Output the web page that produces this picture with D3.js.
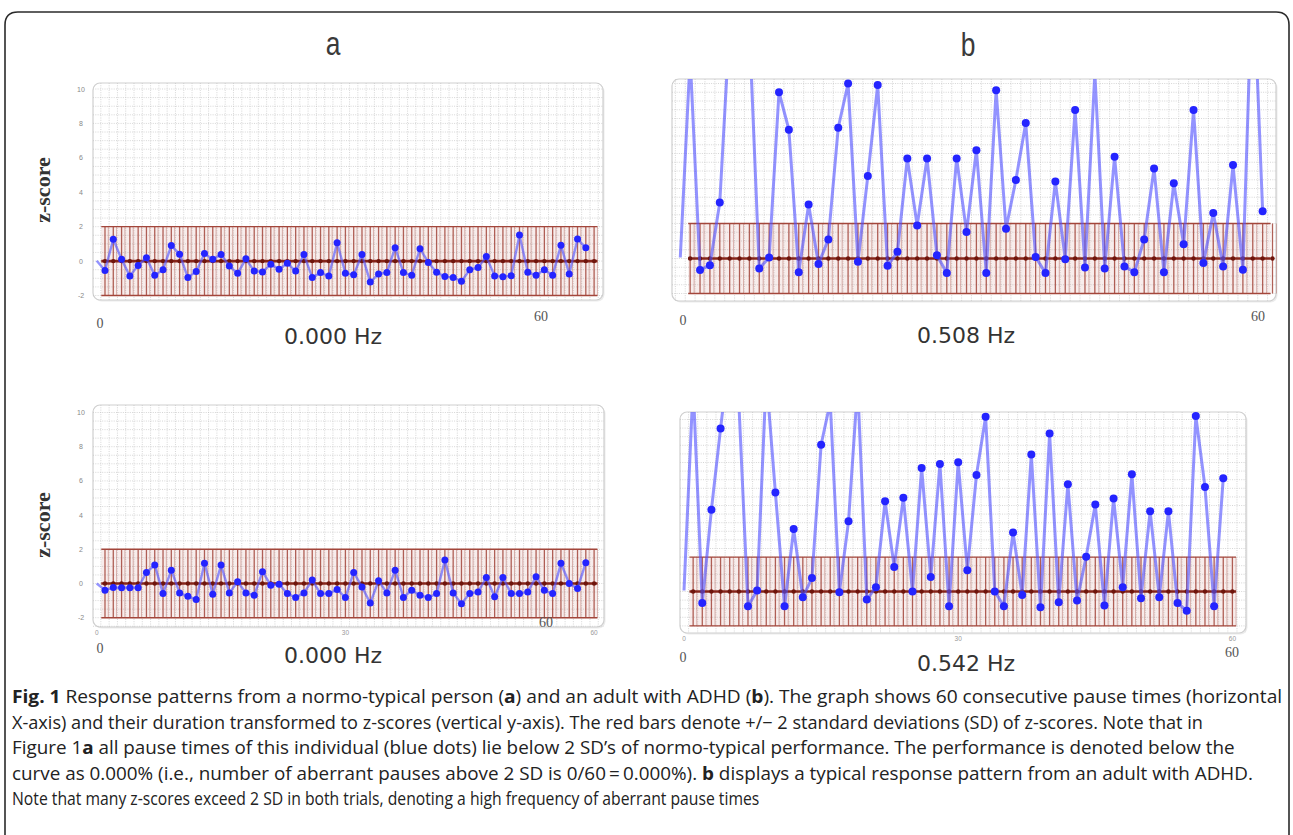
<!DOCTYPE html>
<html><head><meta charset="utf-8">
<script src="https://cdn.jsdelivr.net/npm/d3@7"></script>
<style>html,body{margin:0;padding:0;background:#fff;} svg{display:block;}</style>
</head><body>
<svg id="c" width="1293" height="835"></svg>
<script>
// ---------------- data ----------------
const panelLetters = ["a", "b"];
const yLabel = "z-score";
const rateLabels = ["0.000 Hz", "0.508 Hz", "0.000 Hz", "0.542 Hz"];
const yTickValues = [10, 8, 6, 4, 2, 0, -2];
const xEndLabels = ["0", "60"];
const xTinyTicks = [0, 30, 60];
const sdLimit = 2;
// index 0 = start of the trace (no dot), indices 1..59 = dots
const zA1 = [0.02, -0.55, 1.27, 0.1, -0.87, -0.25, 0.2, -0.83, -0.5, 0.9, 0.4, -0.96, -0.6, 0.44, 0.1, 0.38, -0.29, -0.71, 0.13, -0.58, -0.63, -0.19, -0.48, -0.13, -0.58, 0.38, -0.96, -0.67, -0.87, 1.07, -0.7, -0.8, 0.38, -1.22, -0.75, -0.67, 0.78, -0.67, -0.82, 0.72, -0.08, -0.65, -0.9, -0.95, -1.17, -0.51, -0.38, 0.26, -0.86, -0.91, -0.85, 1.52, -0.65, -0.82, -0.51, -0.82, 0.92, -0.75, 1.28, 0.77];
const zA2 = [0.0, -0.39, -0.24, -0.25, -0.25, -0.25, 0.65, 1.08, -0.59, 0.78, -0.55, -0.75, -0.94, 1.18, -0.63, 1.08, -0.55, 0.1, -0.55, -0.69, 0.69, -0.1, -0.04, -0.59, -0.82, -0.55, 0.2, -0.59, -0.59, -0.35, -0.82, 0.65, -0.2, -1.14, 0.16, -0.55, 0.78, -0.82, -0.39, -0.69, -0.82, -0.59, 1.37, -0.55, -1.18, -0.59, -0.49, 0.35, -0.78, 0.35, -0.59, -0.59, -0.49, 0.39, -0.4, -0.59, 1.18, 0.0, -0.29, 1.22];
const zB1 = [0.06, 11.5, -0.66, -0.38, 3.2, 13.4, 14, 13.2, -0.57, 0.06, 9.5, 7.36, -0.79, 3.08, -0.32, 1.09, 7.47, 10.0, -0.19, 4.72, 9.92, -0.42, 0.38, 5.72, 1.89, 5.72, 0.19, -0.83, 5.72, 1.51, 6.19, -0.83, 9.62, 1.7, 4.49, 7.74, 0.09, -0.83, 4.4, -0.04, 8.49, -0.51, 10.6, -0.57, 5.81, -0.45, -0.79, 1.09, 5.15, -0.79, 4.3, 0.81, 8.49, -0.26, 2.6, -0.45, 5.34, -0.64, 17, 2.7];
const zB2 = [0.06, 12, -0.67, 4.76, 9.47, 14, 11, -0.86, 0.06, 12.5, 5.75, -0.86, 3.63, -0.33, 0.78, 8.53, 11, -0.04, 4.08, 12, -0.47, 0.25, 5.25, 1.43, 5.45, 0.0, 7.18, 0.84, 7.41, -0.86, 7.51, 1.24, 6.78, 10.16, 0.0, -0.86, 3.43, -0.2, 7.96, -0.92, 9.18, -0.63, 6.24, -0.53, 2.02, 5.06, -0.82, 5.41, 0.25, 6.82, -0.39, 4.67, -0.33, 4.67, -0.67, -1.12, 10.2, 6.08, -0.86, 6.59];

const captionLines = [
  [["Fig. 1", true], [" Response patterns from a normo-typical person (", false], ["a", true], [") and an adult with ADHD (", false], ["b", true], ["). The graph shows 60 consecutive pause times (horizontal", false]],
  [["X-axis) and their duration transformed to z-scores (vertical y-axis). The red bars denote +/\u2212 2 standard deviations (SD) of z-scores. Note that in", false]],
  [["Figure 1", false], ["a", true], [" all pause times of this individual (blue dots) lie below 2 SD\u2019s of normo-typical performance. The performance is denoted below the", false]],
  [["curve as 0.000% (i.e., number of aberrant pauses above 2 SD is 0/60\u2009=\u20090.000%). ", false], ["b", true], [" displays a typical response pattern from an adult with ADHD.", false]],
  [["Note that many z-scores exceed 2 SD in both trials, denoting a high frequency of aberrant pause times", false]]
];

// ---------------- layout ----------------
const svg = d3.select("#c");
svg.append("rect").attr("width", 1293).attr("height", 835).attr("fill", "#fff");
svg.append("path").attr("d", "M5,840 L5,25 Q5,12 18,12 L1276,12 Q1289,12 1289,25 L1289,840")
  .attr("fill", "none").attr("stroke", "#2b2b2b").attr("stroke-width", 1.6);

const panels = [
  {id: "A1", data: zA1, xr: [96.7, 594.1], yr: [295.5, 89], frame: [93, 83, 510, 217], band: [0.55, 60.4],
   ticks: true, tiny: false, lw: 2.4, r: 3.5, rate: rateLabels[0], rateXY: [333, 344],
   end0: [100, 328], end60: [541, 321]},
  {id: "B1", data: zB1, xr: [680.3, 1272.5], yr: [293.5, 83.5], frame: [672, 79, 604, 222], band: [0.8, 59.8],
   ticks: false, tiny: false, lw: 3, r: 4, rate: rateLabels[1], rateXY: [966, 343],
   end0: [683, 325], end60: [1258, 321]},
  {id: "A2", data: zA2, xr: [96.7, 594.1], yr: [617.7, 412.5], frame: [93, 405, 511, 222], band: [0.55, 60.4],
   ticks: true, tiny: true, lw: 2.4, r: 3.5, rate: rateLabels[2], rateXY: [333, 663],
   end0: [100, 653], end60: [546, 627]},
  {id: "B2", data: zB2, xr: [684, 1232.4], yr: [625.9, 419.5], frame: [680, 412, 566, 221], band: [0.6, 60.4],
   ticks: false, tiny: true, lw: 3, r: 4, rate: rateLabels[3], rateXY: [966, 671],
   end0: [683, 662], end60: [1232, 657]}
];

const red = "#a3463b", darkRed = "#86251a";

panels.forEach((p, pi) => {
  const x = d3.scaleLinear().domain([0, 60]).range(p.xr);
  const y = d3.scaleLinear().domain([-2, 10]).range(p.yr);
  const step = x(1) - x(0);
  const [fx, fy, fw, fh] = p.frame;
  const g = svg.append("g");
  const clipId = "clip" + p.id;
  svg.append("defs").append("clipPath").attr("id", clipId)
    .append("rect").attr("x", fx).attr("y", fy).attr("width", fw).attr("height", fh);

  // frame (with soft shadow)
  g.append("rect").attr("x", fx + 1.5).attr("y", fy + 1.5).attr("width", fw).attr("height", fh)
    .attr("rx", 7).attr("fill", "#ececec");
  g.append("rect").attr("x", fx).attr("y", fy).attr("width", fw).attr("height", fh)
    .attr("rx", 7).attr("fill", "#fff").attr("stroke", "#cfcfcf").attr("stroke-width", 1.2);

  // grid
  const grid = g.append("g").attr("clip-path", `url(#${clipId})`)
    .attr("stroke", "#c4c4c4").attr("stroke-width", 0.7).attr("stroke-dasharray", "1,1.3");
  const zLines = d3.range(-3, 11.01, 0.5);
  grid.selectAll("line.h").data(zLines).join("line")
    .attr("x1", fx).attr("x2", fx + fw).attr("y1", d => y(d)).attr("y2", d => y(d));
  const xLines = d3.range(-1, 62, 1);
  grid.selectAll("line.v").data(xLines).join("line")
    .attr("x1", d => x(d + 0.5)).attr("x2", d => x(d + 0.5)).attr("y1", fy).attr("y2", fy + fh);

  // band +/- 2 SD
  const bx0 = x(p.band[0]), bx1 = x(p.band[1]);
  g.append("rect").attr("x", bx0).attr("y", y(sdLimit)).attr("width", bx1 - bx0)
    .attr("height", y(-sdLimit) - y(sdLimit)).attr("fill", "rgba(200,110,100,0.12)");
  const idx = d3.range(1, 61);
  const bars = g.append("g").attr("stroke", red).attr("opacity", 0.85);
  bars.selectAll("line.a").data(idx).join("line")
    .attr("x1", d => x(d)).attr("x2", d => x(d)).attr("y1", y(sdLimit)).attr("y2", y(-sdLimit))
    .attr("stroke-width", 1.3);
  bars.selectAll("line.b").data(idx).join("line").attr("class", "b")
    .attr("x1", d => x(d) + step * 0.4).attr("x2", d => x(d) + step * 0.4)
    .attr("y1", y(sdLimit)).attr("y2", y(-sdLimit))
    .attr("stroke-width", 0.8).attr("opacity", 0.55);
  [sdLimit, -sdLimit].forEach(v => g.append("line").attr("x1", bx0).attr("x2", bx1)
    .attr("y1", y(v)).attr("y2", y(v)).attr("stroke", red).attr("stroke-width", 1.4));
  g.append("line").attr("x1", bx0).attr("x2", bx1).attr("y1", y(0)).attr("y2", y(0))
    .attr("stroke", darkRed).attr("stroke-width", 2.6);
  g.append("g").selectAll("circle").data(idx).join("circle")
    .attr("cx", d => x(d)).attr("cy", y(0)).attr("r", 2.2).attr("fill", "#6e150c");

  // trace
  const tr = g.append("g").attr("clip-path", `url(#${clipId})`);
  tr.append("path").datum(p.data)
    .attr("d", d3.line().x((d, i) => x(i)).y(d => y(d)))
    .attr("fill", "none").attr("stroke", "rgba(80,80,255,0.62)").attr("stroke-width", p.lw)
    .attr("stroke-linejoin", "round");
  tr.selectAll("circle").data(p.data.map((v, i) => [i, v]).filter(d => d[0] > 0)).join("circle")
    .attr("cx", d => x(d[0])).attr("cy", d => y(d[1])).attr("r", p.r).attr("fill", "#2424ff");

  // tiny y ticks
  if (p.ticks) {
    g.selectAll("text.yt").data(yTickValues).join("text")
      .attr("x", fx - 12).attr("y", d => y(d) + 2.5).attr("text-anchor", "middle")
      .attr("font-family", "Liberation Sans").attr("font-size", 7).attr("fill", "#888")
      .text(d => d);
  }
  if (p.tiny) {
    g.selectAll("text.xt").data(xTinyTicks).join("text")
      .attr("x", d => x(d)).attr("y", fy + fh + 8).attr("text-anchor", "middle")
      .attr("font-family", "Liberation Sans").attr("font-size", 6.5).attr("fill", "#999")
      .text(d => d);
  }
  // end labels
  g.append("text").attr("x", p.end0[0]).attr("y", p.end0[1]).attr("text-anchor", "middle")
    .attr("font-family", "Liberation Serif").attr("font-size", 14).attr("fill", "#555").text(xEndLabels[0]);
  g.append("text").attr("x", p.end60[0]).attr("y", p.end60[1]).attr("text-anchor", "middle")
    .attr("font-family", "Liberation Serif").attr("font-size", 14).attr("fill", "#555").text(xEndLabels[1]);
  // rate label
  g.append("text").attr("x", p.rateXY[0]).attr("y", p.rateXY[1]).attr("text-anchor", "middle")
    .attr("font-family", "DejaVu Sans").attr("font-size", 22).attr("fill", "#333").text(p.rate);
});

// panel letters (tall, narrow)
[[333, 55, 0], [968, 56, 1]].forEach(([lx, ly, k]) =>
  svg.append("text").attr("transform", `translate(${lx},${ly}) scale(0.8,1)`).attr("text-anchor", "middle")
    .attr("font-family", "Liberation Sans").attr("font-size", 33).attr("fill", "#3a3a3a").text(panelLetters[k]));

// y labels
[190, 525].forEach(cy => svg.append("text").attr("transform", `translate(50,${cy}) rotate(-90)`)
  .attr("text-anchor", "middle").attr("font-family", "Liberation Serif").attr("font-weight", "bold")
  .attr("font-size", 22).attr("fill", "#333").text(yLabel));

// caption
const capY = [703, 729, 754, 780, 805];
const capRight = [1283, 1204, 1236, 1254, 760];
captionLines.forEach((parts, li) => {
  const cg = svg.append("g");
  const t = cg.append("text").attr("x", 0).attr("y", 0)
    .attr("font-family", "Open Sans").attr("font-size", 18).attr("fill", "#222");
  parts.forEach(([s, b]) => t.append("tspan").attr("font-weight", b ? 700 : 400).text(s));
  const w = t.node().getComputedTextLength();
  const sx = (capRight[li] - 12) / w;
  cg.attr("transform", `translate(12,${capY[li]}) scale(${sx},1)`);
});
</script></body></html>
